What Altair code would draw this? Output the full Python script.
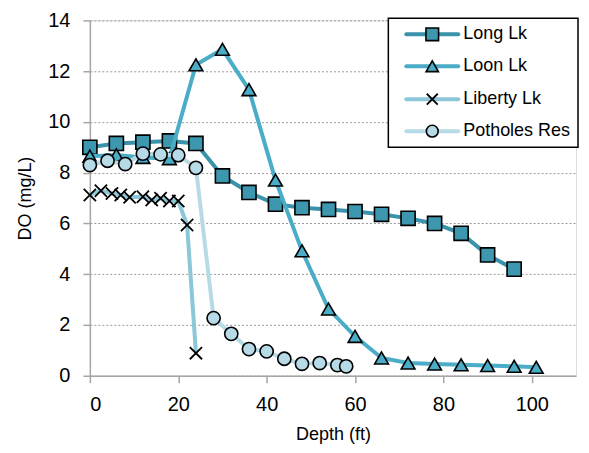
import altair as alt
import pandas as pd

series_names = ["Long Lk", "Loon Lk", "Liberty Lk", "Potholes Res"]

long_x = [0, 6, 12, 18, 24, 30, 36, 42, 48, 54, 60, 66, 72, 78, 84, 90, 96]
long_y = [9.0, 9.15, 9.2, 9.25, 9.15, 7.87, 7.22, 6.76, 6.62, 6.55, 6.47, 6.36, 6.2, 6.0, 5.61, 4.76, 4.2]

loon_x = [0, 6, 12, 18, 24, 30, 36, 42, 48, 54, 60, 66, 72, 78, 84, 90, 96, 101]
loon_y = [8.65, 8.7, 8.6, 8.55, 12.25, 12.86, 11.27, 7.71, 4.92, 2.63, 1.55, 0.7, 0.5, 0.46, 0.43, 0.4, 0.37, 0.33]

liberty_x = [0, 2.5, 5, 7, 9, 12, 14, 16, 18, 20, 22, 24]
liberty_y = [7.12, 7.29, 7.18, 7.12, 7.03, 7.05, 6.92, 6.99, 6.88, 6.88, 5.94, 0.89]

potholes_x = [0, 4, 8, 12, 16, 20, 24, 28, 32, 36, 40, 44, 48, 52, 56, 58]
potholes_y = [8.3, 8.47, 8.34, 8.75, 8.72, 8.69, 8.19, 2.27, 1.65, 1.05, 0.96, 0.67, 0.47, 0.5, 0.42, 0.37]

x_ticks = [0, 20, 40, 60, 80, 100]
y_ticks = [0, 2, 4, 6, 8, 10, 12, 14]

FONT = "Liberation Sans"
X_PATH = "M-1,-1L1,1M-1,1L1,-1"

styles = {
    "Long Lk": dict(line="#3a93ab", fill="#3d97ae", shape="square", size=200, filled=True),
    "Loon Lk": dict(line="#4aacc6", fill="#4aacc6", shape="triangle-up", size=190, filled=True),
    "Liberty Lk": dict(line="#8cc6d9", fill="none", shape=X_PATH, size=150, filled=False),
    "Potholes Res": dict(line="#b7dbe6", fill="#b7dbe6", shape="circle", size=175, filled=True),
}

data = {
    "Long Lk": (long_x, long_y),
    "Loon Lk": (loon_x, loon_y),
    "Liberty Lk": (liberty_x, liberty_y),
    "Potholes Res": (potholes_x, potholes_y),
}

rows = []
for name in series_names:
    xs, ys = data[name]
    for i, (xv, yv) in enumerate(zip(xs, ys)):
        rows.append({"series": name, "depth": xv, "do": yv, "i": i})
df = pd.DataFrame(rows)

x_enc = alt.X(
    "depth:Q",
    scale=alt.Scale(domain=[0, 110], nice=False),
    axis=alt.Axis(
        values=x_ticks, title="Depth (ft)", grid=False,
        domainColor="#a6a6a6", domainWidth=1.5, tickColor="#a6a6a6", tickWidth=1.5, tickSize=7,
        labelFontSize=20, labelFont=FONT, labelColor="black", labelPadding=12,
        titleFontSize=18, titleFont=FONT, titleFontWeight="normal", titleColor="black", titlePadding=11,
    ),
)
y_enc = alt.Y(
    "do:Q",
    scale=alt.Scale(domain=[0, 14], nice=False),
    axis=alt.Axis(
        values=y_ticks, title="DO (mg/L)", grid=True, gridDash=[2, 2], gridColor="#999999", gridWidth=1,
        domainColor="#a6a6a6", domainWidth=1.5, tickColor="#a6a6a6", tickWidth=1.5, tickSize=7,
        labelFontSize=20, labelFont=FONT, labelColor="black", labelPadding=13,
        titleFontSize=18, titleFont=FONT, titleFontWeight="normal", titleColor="black", titlePadding=13,
    ),
)

layers = []
for name in series_names:
    st = styles[name]
    sub = alt.Chart(df).transform_filter(alt.datum.series == name)
    line = sub.mark_line(color=st["line"], strokeWidth=4).encode(x=x_enc, y=y_enc, order="i:Q")
    if st["filled"]:
        pts = sub.mark_point(shape=st["shape"], size=st["size"], filled=True, fill=st["fill"],
                             stroke="black", strokeWidth=1.6, opacity=1).encode(x=x_enc, y=y_enc)
    else:
        pts = sub.mark_point(shape=st["shape"], size=st["size"], filled=False,
                             stroke="black", strokeWidth=1.8, opacity=1).encode(x=x_enc, y=y_enc)
    layers += [line, pts]

# legend (drawn manually, in pixel coordinates of the plot area)
one = pd.DataFrame({"a": [0]})
leg = [alt.Chart(one).mark_rect(fill="white", stroke="black", strokeWidth=1.5).encode(
    x=alt.value(299), x2=alt.value(489), y=alt.value(-2), y2=alt.value(127))]
leg_y = [14, 46, 79, 111]
for name, ly in zip(series_names, leg_y):
    st = styles[name]
    leg.append(alt.Chart(one).mark_rule(color=st["line"], strokeWidth=4, strokeCap="round").encode(
        x=alt.value(317), x2=alt.value(369), y=alt.value(ly)))
    if st["filled"]:
        leg.append(alt.Chart(one).mark_point(shape=st["shape"], size=st["size"] * 0.8, filled=True,
                                             fill=st["fill"], stroke="black", strokeWidth=1.6, opacity=1).encode(
            x=alt.value(343), y=alt.value(ly)))
    else:
        leg.append(alt.Chart(one).mark_point(shape=st["shape"], size=st["size"] * 0.8, filled=False,
                                             stroke="black", strokeWidth=1.8, opacity=1).encode(
            x=alt.value(343), y=alt.value(ly)))
    leg.append(alt.Chart(one).mark_text(align="left", baseline="middle", fontSize=18, font=FONT,
                                        color="black").encode(
        x=alt.value(374), y=alt.value(ly), text=alt.value(name)))

chart = alt.layer(*layers, *leg).properties(
    width=487, height=356, padding={"left": 8, "right": 2, "top": 2, "bottom": 0}
).configure_view(stroke=None).configure(background="white")

chart.save("out.html", embed_options={"renderer": "svg", "actions": False})
